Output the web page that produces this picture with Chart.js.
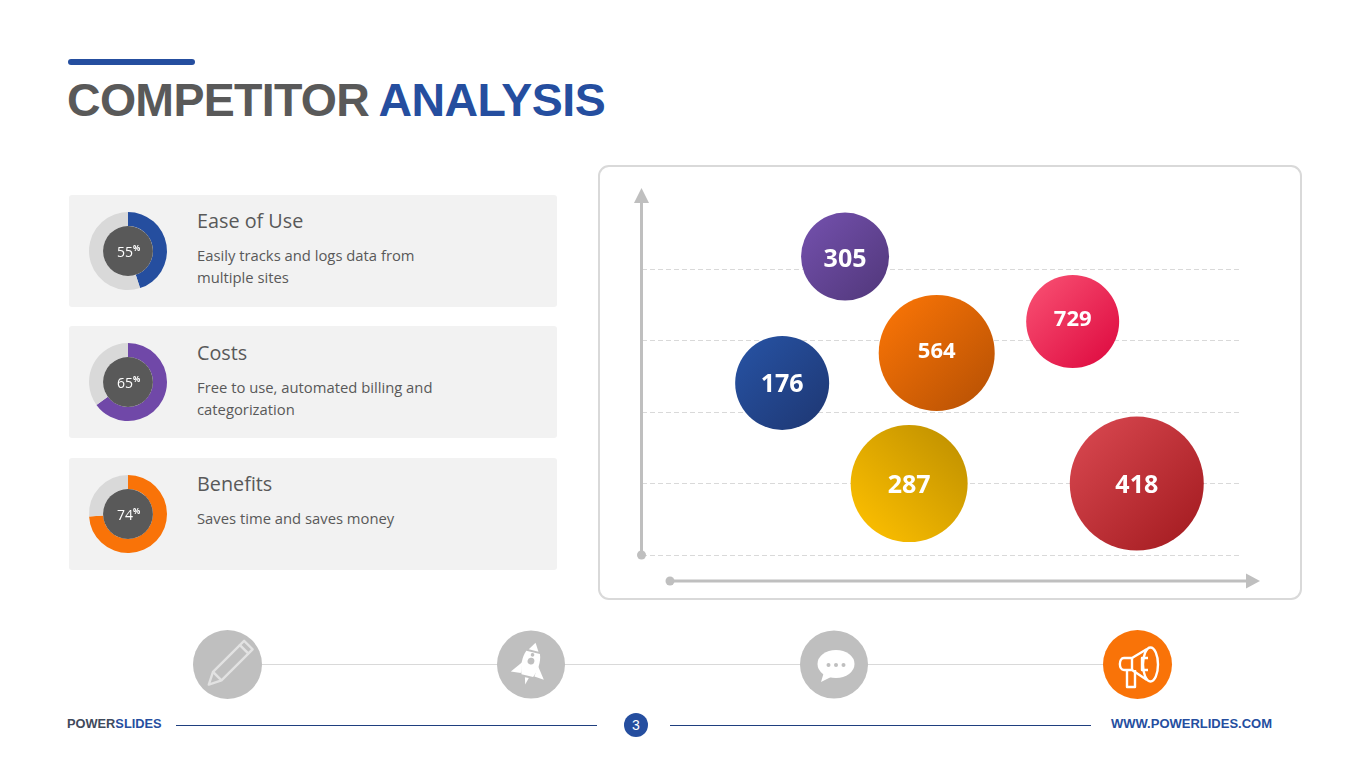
<!DOCTYPE html>
<html>
<head>
<meta charset="utf-8">
<title>Competitor Analysis</title>
<script src="https://cdn.jsdelivr.net/npm/chart.js@4"></script>
<style>
  html, body { margin: 0; padding: 0; background: #fff; }
  body { width: 1365px; height: 767px; position: relative; overflow: hidden; font-family: "Open Sans", sans-serif; color: #595959; }
  .abs { position: absolute; }
  .topbar { left: 68px; top: 59px; width: 127px; height: 6px; background: #254e9f; border-radius: 3px; }
  .title { left: 67px; top: 72px; font: bold 46.5px/56px "Liberation Sans", sans-serif; color: #595959; white-space: nowrap; letter-spacing: -0.7px; }
  .title b { color: #254e9f; margin-left: -3px; letter-spacing: -0.5px; }
  .card { left: 69px; width: 488px; height: 112px; background: #f2f2f2; border-radius: 3px; }
  .card canvas { position: absolute; left: 14px; top: 11px; }
  .card h3 { position: absolute; left: 128px; top: 12px; margin: 0; font-weight: 400; font-size: 19.8px; line-height: 28px; white-space: nowrap; }
  .card p { position: absolute; left: 128px; top: 49px; margin: 0; font-size: 14.8px; line-height: 22px; white-space: nowrap; }
  .panel { left: 598px; top: 165px; width: 700px; height: 431px; border: 2px solid #d9d9d9; border-radius: 11px; }
  #bubbles { position: absolute; left: 600px; top: 167px; }
  .link { left: 262px; top: 664px; width: 841px; height: 1px; background: #d9d9d9; }
  .foot { top: 716px; font: bold 12.8px/15px "Liberation Sans", sans-serif; white-space: nowrap; color: #254e9f; }
  .rule { top: 725px; height: 1px; background: #1f3f7f; }
  .page { left: 624px; top: 713px; width: 24px; height: 24px; border-radius: 50%; background: #254e9f; color: #fff; font: 14px/24px "Liberation Sans", sans-serif; text-align: center; }
</style>
</head>
<body>
<div class="abs topbar"></div>
<div class="abs title">COMPETITOR <b>ANALYSIS</b></div>

<div class="abs card" style="top:195px"><canvas id="d0" width="90" height="90"></canvas><h3>Ease of Use</h3><p>Easily tracks and logs data from<br>multiple sites</p></div>
<div class="abs card" style="top:326px"><canvas id="d1" width="90" height="90"></canvas><h3 style="top:13px">Costs</h3><p style="top:50px">Free to use, automated billing and<br>categorization</p></div>
<div class="abs card" style="top:458px"><canvas id="d2" width="90" height="90"></canvas><h3>Benefits</h3><p>Saves time and saves money</p></div>

<div class="abs panel"></div>
<canvas id="bubbles" width="700" height="431"></canvas>

<div class="abs link"></div>
<svg class="abs" style="left:193px;top:630px" width="70" height="70" viewBox="0 0 70 70">
  <circle cx="34.5" cy="34.5" r="34.5" fill="#bfbfbf"/>
  <g transform="rotate(45 34.5 34.5) translate(1 0)" fill="none" stroke="#e2e2e2" stroke-width="2.4" stroke-linejoin="round">
    <rect x="28.5" y="6" width="12" height="6"/>
    <path d="M28.5 12V50L34.5 62L40.5 50V12"/>
    <path d="M28.5 50H40.5"/>
  </g>
</svg>
<svg class="abs" style="left:497px;top:630px" width="70" height="70" viewBox="0 0 70 70">
  <circle cx="34" cy="34.5" r="34" fill="#bfbfbf"/>
  <g transform="translate(-1 1) rotate(14 34 34)" fill="#fff">
    <path d="M34 11L39 19H29Z"/>
    <path d="M27 21H41C44 28 43 38 40 45H28C25 38 24 28 27 21Z"/>
    <path d="M26 33L17 45L27 44Z"/>
    <path d="M42 33L51 45L41 44Z"/>
    <path d="M32 47H36L34 54Z"/>
    <circle cx="34" cy="30" r="3.4" fill="#bfbfbf"/>
    <circle cx="34" cy="23.5" r="1.8" fill="#bfbfbf"/>
  </g>
</svg>
<svg class="abs" style="left:800px;top:630px" width="70" height="70" viewBox="0 0 70 70">
  <circle cx="34" cy="34.5" r="34" fill="#bfbfbf"/>
  <ellipse cx="36" cy="34" rx="18.5" ry="14" fill="#fff"/>
  <path d="M24 42L21 52L35 45Z" fill="#fff"/>
  <circle cx="28.5" cy="35" r="2" fill="#bfbfbf"/><circle cx="36" cy="35" r="2" fill="#bfbfbf"/><circle cx="43.5" cy="35" r="2" fill="#bfbfbf"/>
</svg>
<svg class="abs" style="left:1103px;top:630px" width="70" height="70" viewBox="0 0 70 70">
  <circle cx="34.5" cy="34.5" r="34.5" fill="#f97308"/>
  <g fill="none" stroke="#fff" stroke-width="2.4" stroke-linejoin="round">
    <ellipse cx="47.5" cy="34.5" rx="7.5" ry="17"/>
    <path d="M44 19L29 28H21C15.5 28 15.5 40 21 40H29L44 50"/>
    <path d="M29 28V40"/>
    <path d="M24 40V57H32V40"/>
    <path d="M45 28H39V40H45"/>
  </g>
</svg>

<div class="abs foot" style="left:67px"><span style="color:#3f4a5c">POWER</span>SLIDES</div>
<div class="abs rule" style="left:176px;width:421px"></div>
<div class="abs page">3</div>
<div class="abs rule" style="left:670px;width:421px"></div>
<div class="abs foot" style="left:1111px;font-size:13px">WWW.POWERLIDES.COM</div>

<script>
// donuts
const donutLabels = [55, 65, 74];
const donutFilled = [45, 65, 74];
const donutColors = ["#254e9f", "#7048a8", "#f97308"];

// bubbles
const bubbleLabels = [305, 176, 564, 729, 287, 418];
const bubbleX = [3.39, 2.34, 4.92, 7.19, 4.46, 8.26];
const bubbleY = [4.18, 2.41, 2.83, 3.27, 1.0, 1.0];
const bubbleR = [44, 47, 58, 46.5, 58.5, 67];
const bubbleFonts = [25, 25, 22, 22, 25, 25];
const bubbleTextNudge = [2, 1, -2, -3, 1, 1];
const bubbleFrom = ["#704ea8", "#26509f", "#f57206", "#f64a6e", "#f9bc00", "#d4444c"];
const bubbleTo = ["#553a80", "#1f3a78", "#bd5404", "#e01044", "#c49400", "#a81f24"];
// 287 runs from bottom left, the others from top left
const bubbleFlip = [false, false, false, false, true, false];

const gridMax = 5;

Chart.defaults.animation = false;
Chart.defaults.devicePixelRatio = 1;

const donutCenter = {
  id: "donutCenter",
  afterDraw(chart, args, opts) {
    const arc = chart.getDatasetMeta(0).data[0];
    const ctx = chart.ctx;
    ctx.save();
    ctx.beginPath();
    ctx.arc(arc.x, arc.y, arc.innerRadius, 0, Math.PI * 2);
    ctx.fillStyle = "#595959";
    ctx.fill();
    ctx.fillStyle = "#fff";
    ctx.textBaseline = "middle";
    ctx.font = '14px "Open Sans"';
    const w = ctx.measureText(opts.value).width;
    ctx.fillText(opts.value, arc.x - w / 2 - 3, arc.y + 2);
    ctx.font = 'bold 8px "Open Sans"';
    ctx.fillText("%", arc.x + w / 2 - 3, arc.y - 2);
    ctx.restore();
  }
};

donutFilled.forEach((v, i) => {
  new Chart(document.getElementById("d" + i), {
    type: "doughnut",
    data: {
      datasets: [{
        data: [v, 100 - v],
        backgroundColor: [donutColors[i], "#d9d9d9"],
        borderWidth: 0
      }]
    },
    options: {
      responsive: false,
      cutout: "64%",
      layout: { padding: 6 },
      plugins: {
        legend: { display: false },
        tooltip: { enabled: false },
        donutCenter: { value: String(donutLabels[i]) }
      }
    },
    plugins: [donutCenter]
  });
});

function bubbleGradient(c) {
  const chart = c.chart;
  const i = c.dataIndex;
  if (i === undefined) return "#000";
  const cx = chart.scales.x.getPixelForValue(bubbleX[i]);
  const cy = chart.scales.y.getPixelForValue(bubbleY[i]);
  // first pass runs before the scales have a size
  if (!Number.isFinite(cx) || !Number.isFinite(cy)) return bubbleFrom[i];
  const r = bubbleR[i] * 0.75;
  const dy = bubbleFlip[i] ? -r : r;
  const g = chart.ctx.createLinearGradient(cx - r, cy - dy, cx + r, cy + dy);
  g.addColorStop(0, bubbleFrom[i]);
  g.addColorStop(1, bubbleTo[i]);
  return g;
}

const axisArrows = {
  id: "axisArrows",
  afterDraw(chart) {
    const ctx = chart.ctx;
    const { left, right, bottom, top } = chart.chartArea;
    ctx.save();
    ctx.fillStyle = "#bfbfbf";
    ctx.strokeStyle = "#bfbfbf";
    ctx.lineWidth = 3;
    // y axis
    ctx.beginPath(); ctx.moveTo(left - 0.5, bottom); ctx.lineTo(left - 0.5, top + 4); ctx.stroke();
    ctx.beginPath(); ctx.moveTo(left - 8, top + 5); ctx.lineTo(left + 7, top + 5); ctx.lineTo(left - 0.5, top - 10); ctx.fill();
    ctx.beginPath(); ctx.arc(left - 0.5, bottom, 4.5, 0, Math.PI * 2); ctx.fill();
    // x axis
    const ay = bottom + 26;
    ctx.beginPath(); ctx.moveTo(left + 28, ay); ctx.lineTo(right + 6, ay); ctx.stroke();
    ctx.beginPath(); ctx.moveTo(right + 5, ay - 7.5); ctx.lineTo(right + 5, ay + 7.5); ctx.lineTo(right + 19, ay); ctx.fill();
    ctx.beginPath(); ctx.arc(left + 28, ay, 4.5, 0, Math.PI * 2); ctx.fill();
    ctx.restore();
  }
};

const bubbleValues = {
  id: "bubbleValues",
  afterDatasetsDraw(chart) {
    const ctx = chart.ctx;
    ctx.save();
    ctx.fillStyle = "#fff";
    ctx.textAlign = "center";
    ctx.textBaseline = "middle";
    chart.getDatasetMeta(0).data.forEach((pt, i) => {
      ctx.font = 'bold ' + bubbleFonts[i] + 'px "Open Sans"';
      ctx.fillText(bubbleLabels[i], pt.x, pt.y + 1 + bubbleTextNudge[i]);
    });
    ctx.restore();
  }
};

new Chart(document.getElementById("bubbles"), {
  type: "bubble",
  data: {
    datasets: [{
      data: bubbleX.map((x, i) => ({ x: x, y: bubbleY[i], r: bubbleR[i] })),
      backgroundColor: bubbleGradient,
      borderWidth: 0,
      clip: false
    }]
  },
  options: {
    responsive: false,
    layout: { autoPadding: false, padding: { left: 42, right: 59, top: 31, bottom: 43 } },
    scales: {
      x: { type: "linear", min: 0, max: 10, display: false },
      y: {
        type: "linear",
        min: 0,
        max: gridMax,
        border: { display: false, dash: [5, 3] },
        ticks: { display: false, stepSize: 1 },
        grid: {
          drawTicks: false,
          color: c => c.tick.value === gridMax ? "rgba(0,0,0,0)" : "#d9d9d9",
          lineWidth: 1
        }
      }
    },
    plugins: { legend: { display: false }, tooltip: { enabled: false } }
  },
  plugins: [axisArrows, bubbleValues]
});
</script>
</body>
</html>
